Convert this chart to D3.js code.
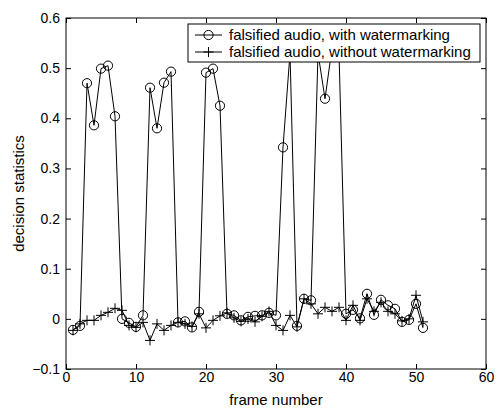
<!DOCTYPE html>
<html><head><meta charset="utf-8">
<script src="https://cdn.jsdelivr.net/npm/d3@7"></script>
<style>body{margin:0;background:#fff}svg{display:block}</style>
</head><body>
<script>
const frames = d3.range(1, 52);
const withWatermark = [-0.022,-0.014,0.470,0.386,0.499,0.505,0.404,0.000,-0.008,-0.016,0.007,0.461,0.380,0.471,0.493,-0.007,-0.005,-0.017,0.014,0.491,0.499,0.425,0.010,0.007,-0.003,0.004,0.006,0.007,0.012,0.007,0.342,0.53,-0.014,0.040,0.037,0.53,0.439,0.54,0.53,0.010,0.018,0.001,0.050,0.008,0.038,0.027,0.020,-0.006,-0.002,0.030,-0.018];
const withoutWatermark = [-0.023,-0.010,-0.003,-0.003,0.007,0.013,0.021,0.017,-0.013,-0.017,-0.007,-0.043,-0.010,-0.023,-0.013,-0.007,-0.010,-0.015,0.010,-0.018,-0.003,0.006,0.012,0.002,-0.005,0.000,-0.006,0.005,0.015,-0.013,-0.023,0.007,-0.016,0.040,0.030,0.010,0.023,0.015,0.023,-0.003,0.027,-0.003,0.040,0.015,0.033,0.015,0.010,-0.004,0.000,0.047,-0.006];
const xTicks = [0,10,20,30,40,50,60];
const yTicks = [-0.1,0,0.1,0.2,0.3,0.4,0.5,0.6];
const seriesNames = ["falsified audio, with watermarking","falsified audio, without watermarking"];

const W = 498, H = 409;
const m = {left:66, right:12, top:18, bottom:40};
const svg = d3.select("body").append("svg").attr("width", W).attr("height", H)
  .style("font-family","'Liberation Sans', Arial, Helvetica, sans-serif");
const x = d3.scaleLinear().domain([0,60]).range([m.left, W - m.right]);
const y = d3.scaleLinear().domain([-0.1,0.6]).range([H - m.bottom, m.top]);

svg.append("defs").append("clipPath").attr("id","clip").append("rect")
  .attr("x", m.left).attr("y", m.top).attr("width", W-m.left-m.right).attr("height", H-m.top-m.bottom);

const fmt = d => d === 0 ? "0" : d3.format(".1f")(d);
const tl = 5;
const gx = svg.append("g").attr("transform",`translate(0,${H-m.bottom})`)
  .call(d3.axisBottom(x).tickValues(xTicks).tickSize(-tl).tickPadding(3).tickFormat(d3.format("d")));
const gy = svg.append("g").attr("transform",`translate(${m.left},0)`)
  .call(d3.axisLeft(y).tickValues(yTicks).tickSize(-tl).tickPadding(6).tickFormat(fmt));
const gxt = svg.append("g").attr("transform",`translate(0,${m.top})`)
  .call(d3.axisTop(x).tickValues(xTicks).tickSize(-tl).tickFormat(""));
const gyr = svg.append("g").attr("transform",`translate(${W-m.right},0)`)
  .call(d3.axisRight(y).tickValues(yTicks).tickSize(-tl).tickFormat(""));
[gx,gy,gxt,gyr].forEach(g=>{
  g.select(".domain").remove();
  g.selectAll("line").attr("stroke","#000");
  g.selectAll("text").attr("fill","#000").style("font-size","14px");
});
svg.append("rect").attr("x", m.left).attr("y", m.top).attr("width", W-m.left-m.right).attr("height", H-m.top-m.bottom)
  .attr("fill","none").attr("stroke","#000").attr("stroke-width",1);

svg.append("text").attr("x", (m.left + W - m.right)/2).attr("y", 405).attr("text-anchor","middle")
  .style("font-size","15px").text("frame number");
svg.append("text").attr("transform",`translate(24,${(m.top+H-m.bottom)/2}) rotate(-90)`).attr("text-anchor","middle")
  .style("font-size","15px").text("decision statistics");

const plot = svg.append("g").attr("clip-path","url(#clip)");
const line = d3.line().x((d,i)=>x(frames[i])).y(d=>y(d));
plot.append("path").datum(withoutWatermark).attr("d", line).attr("fill","none").attr("stroke","#000").attr("stroke-width",1);
plot.append("path").datum(withWatermark).attr("d", line).attr("fill","none").attr("stroke","#000").attr("stroke-width",1);
const pl = 5;
const plusPath = (cx, cy) => `M${cx-pl},${cy}H${cx+pl}M${cx},${cy-pl}V${cy+pl}`;
plot.selectAll(".plus").data(withoutWatermark).enter().append("path")
  .attr("d",(d,i)=>plusPath(x(frames[i]), y(d))).attr("stroke","#000").attr("fill","none");
plot.selectAll(".circ").data(withWatermark).enter().append("circle")
  .attr("cx",(d,i)=>x(frames[i])).attr("cy",d=>y(d)).attr("r",4.6)
  .attr("fill","none").attr("stroke","#000");

const lg = svg.append("g");
lg.append("rect").attr("x",188).attr("y",24).attr("width",292).attr("height",38).attr("fill","#fff").attr("stroke","#000");
[35, 52].forEach((ly, k) => {
  lg.append("line").attr("x1",195).attr("x2",222).attr("y1",ly).attr("y2",ly).attr("stroke","#000");
  if (k === 0) lg.append("circle").attr("cx",208.5).attr("cy",ly).attr("r",4.6).attr("fill","none").attr("stroke","#000");
  else lg.append("path").attr("d",plusPath(208.5, ly)).attr("stroke","#000");
  lg.append("text").attr("x",229).attr("y",ly+5).style("font-size","15px").text(seriesNames[k]);
});
</script>
</body></html>
